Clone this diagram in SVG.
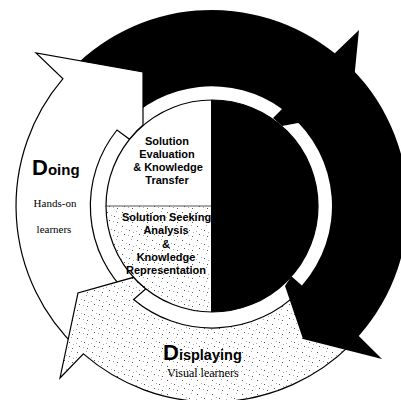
<svg xmlns="http://www.w3.org/2000/svg" width="401" height="400" viewBox="0 0 401 400">
<defs>
<pattern id="speck" width="15" height="14" patternUnits="userSpaceOnUse">
<rect width="15" height="14" fill="#fff"/>
<path d="M2 2h1v1h-1z M9 6h1v1h-1z M4 10h1v1h-1z M12 12h1v1h-1z" fill="#555"/>
<path d="M11 1h1v1h-1z M6 5h1v1h-1z M1 7h1v1h-1z M8 11h1v1h-1z M13 8h1v1h-1z" fill="#aaa"/>
</pattern>
<clipPath id="discClip"><circle cx="212" cy="206" r="106"/></clipPath>
<style>
.out{stroke:#000;stroke-width:1.2;stroke-linejoin:miter}
.blk{fill:#000}
.lbl{font-family:"Liberation Sans",Arial,sans-serif;font-weight:bold;font-size:11px;text-anchor:middle;fill:#000}
.big{font-family:"Liberation Sans",Arial,sans-serif;font-weight:bold;fill:#000}
.sub{font-family:"Liberation Serif","Times New Roman",serif;fill:#000}
</style>
</defs>
<rect width="401" height="400" fill="#fff"/>

<g id="connectors">
<path id="arrow-black1" class="blk" d="M66.3,74.8 A196,196 0 0 1 334.8,53.3 L359,30 L348,140 L298,123 L282,126 L273,118 L282,109 A120,120 0 0 0 122.8,125.7 Z"/>
<path id="arrow-doing" class="out" fill="#fff" d="M78.3,349.3 A196,196 0 0 1 63,78.7 L36,53 L143,72 L143,125 A106,106 0 0 0 129.6,139.3 L117,130 A121.7,121.7 0 0 0 129,295 Z"/>
<path id="arrow-displaying" class="out" fill="url(#speck)" d="M350.6,344.6 A196,196 0 0 1 83.4,353.9 L60,378 L78,293 L133.6,277.3 A106,106 0 0 0 145.9,288.8 L133.6,299.5 A122,122 0 0 0 298.3,292.3 Z"/>
<path id="arrow-black2" class="blk" d="M338,55.9 A196,196 0 0 1 358.8,335.9 L382,359 L303,339 L285,286 L291.4,276.2 L301.9,285.5 A120,120 0 0 0 289.1,114.1 Z"/>
</g>

<g id="disc">
<g clip-path="url(#discClip)">
<rect x="100" y="95" width="111" height="111" fill="#fff"/>
<rect x="100" y="206" width="111" height="111" fill="url(#speck)"/>
<rect x="211" y="95" width="110" height="222" fill="#000"/>
</g>
<line x1="106" y1="206" x2="211" y2="206" stroke="#555" stroke-width="1"/>
<circle cx="212" cy="206" r="106" fill="none" stroke="#000" stroke-width="1.2"/>
</g>

<g id="node-evaluation">
<text class="lbl" x="167" y="145">Solution</text>
<text class="lbl" x="167" y="157.5">Evaluation</text>
<text class="lbl" x="168" y="171">&amp; Knowledge</text>
<text class="lbl" x="167" y="183.5">Transfer</text>
</g>

<g id="node-seeking">
<text class="lbl" x="166.5" y="221">Solution Seeking</text>
<text class="lbl" x="166" y="234">Analysis</text>
<text class="lbl" x="166" y="247.5">&amp;</text>
<text class="lbl" x="166" y="261">Knowledge</text>
<text class="lbl" x="166" y="274">Representation</text>
</g>

<g id="node-doing">
<text class="big" x="32" y="175"><tspan font-size="22">D</tspan><tspan font-size="15">oing</tspan></text>
<text class="sub" x="55" y="207" font-size="11" text-anchor="middle">Hands-on</text>
<text class="sub" x="54" y="233" font-size="11" text-anchor="middle">learners</text>
</g>

<g id="node-displaying">
<text class="big" x="163" y="360"><tspan font-size="22">D</tspan><tspan font-size="14.5">isplaying</tspan></text>
<text class="sub" x="167" y="377" font-size="12">Visual learners</text>
</g>
</svg>
